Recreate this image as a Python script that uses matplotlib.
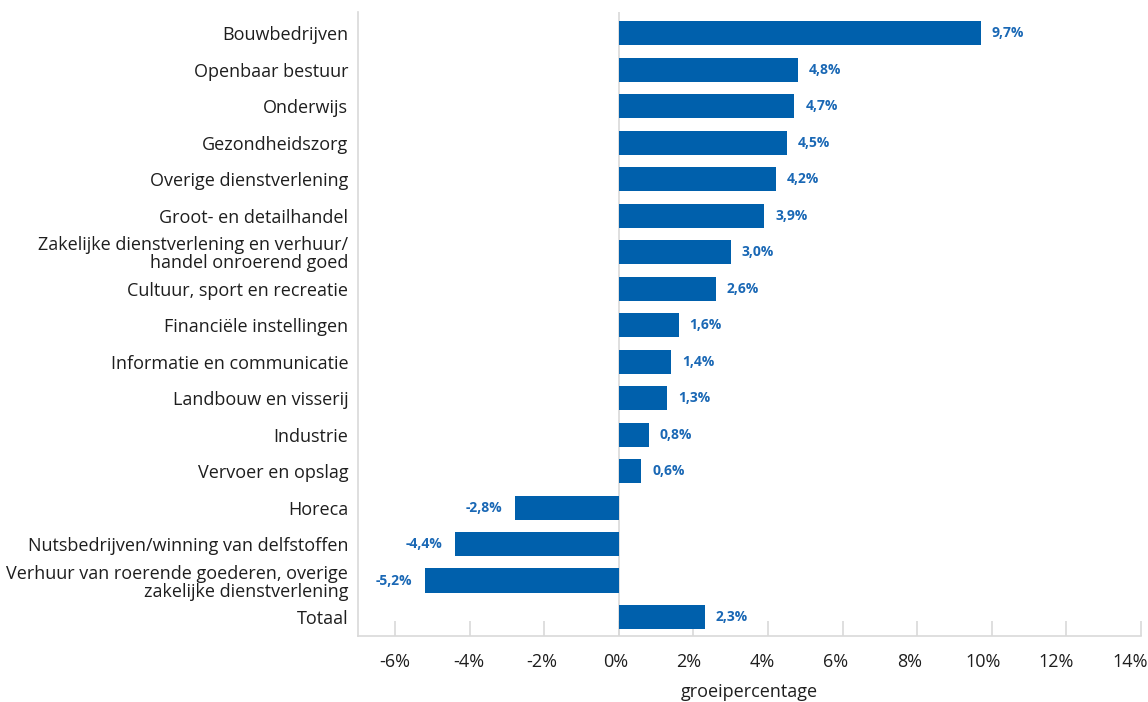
import matplotlib.pyplot as plt
from matplotlib.transforms import ScaledTranslation

sectors = [
    'Bouwbedrijven',
    'Openbaar bestuur',
    'Onderwijs',
    'Gezondheidszorg',
    'Overige dienstverlening',
    'Groot- en detailhandel',
    'Zakelijke dienstverlening en verhuur/\nhandel onroerend goed',
    'Cultuur, sport en recreatie',
    'Financiële instellingen',
    'Informatie en communicatie',
    'Landbouw en visserij',
    'Industrie',
    'Vervoer en opslag',
    'Horeca',
    'Nutsbedrijven/winning van delfstoffen',
    'Verhuur van roerende goederen, overige\nzakelijke dienstverlening',
    'Totaal',
]
growth = [9.7, 4.8, 4.7, 4.5, 4.2, 3.9, 3.0, 2.6, 1.6, 1.4, 1.3, 0.8, 0.6,
          -2.8, -4.4, -5.2, 2.3]
xticks = list(range(-6, 15, 2))

plt.rcParams['font.family'] = ['Open Sans', 'DejaVu Sans']

bar_color = '#0060ac'
label_color = '#1a68b5'
text_color = '#1e1e1e'
grey = '#d9d9d9'

fig = plt.figure(figsize=(11.48, 7.02), dpi=100)
ax = fig.add_axes([0.3118, 0.094, 0.682, 0.889])

ypos = list(range(len(sectors)))
ax.barh(ypos, growth, height=0.66, color=bar_color, zorder=3)
ax.axvline(0, color=grey, lw=1.2, zorder=1)

for y, v in zip(ypos, growth):
    txt = f'{v:.1f}%'.replace('.', ',')
    off = 8 if v >= 0 else -9
    ax.annotate(txt, (v, y), xytext=(off, 0), textcoords='offset points',
                ha='left' if v >= 0 else 'right', va='center',
                color=label_color, fontsize=10, fontweight='bold')

ax.set_xlim(-7, 14)
ax.set_ylim(16.52, -0.58)
ax.set_yticks(ypos)
ax.set_yticklabels(sectors, fontsize=13, color=text_color, linespacing=1.0)
ax.tick_params(axis='y', length=0, pad=7)

# x tick marks inside; labels drawn separately (slightly tighter spacing)
ax.set_xticks(xticks)
ax.set_xticklabels([])
ax.tick_params(axis='x', direction='in', length=11, width=1.2, color=grey)
tr = ax.get_xaxis_transform()
for v in xticks:
    shift = ScaledTranslation(-(v + 6) * 0.0055, 0, fig.dpi_scale_trans)
    ax.text(v, -0.027, f'{v}%', transform=tr + shift, ha='center', va='top',
            fontsize=13, color=text_color)
ax.set_xlabel('groeipercentage', fontsize=13, color=text_color, labelpad=30)

for s in ['top', 'right']:
    ax.spines[s].set_visible(False)
for s in ['left', 'bottom']:
    ax.spines[s].set_color(grey)
    ax.spines[s].set_linewidth(1.2)

fig.savefig('out.png', dpi=100)
